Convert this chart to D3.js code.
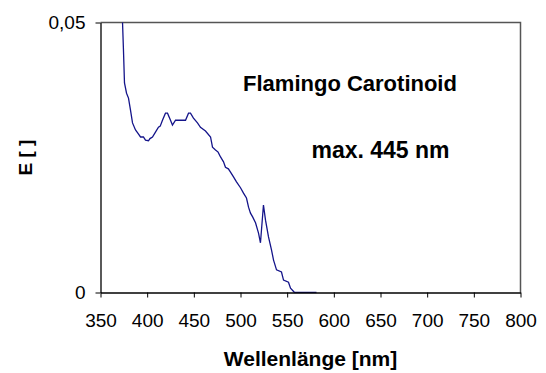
<!DOCTYPE html>
<html lang="de">
<head>
<meta charset="UTF-8">
<title>Flamingo Carotinoid</title>
<script src="https://cdnjs.cloudflare.com/ajax/libs/d3/7.8.5/d3.min.js"></script>
<style>
    body { margin: 0; background: #fff; }
    svg { font-family: "Liberation Sans", Arial, sans-serif; }
</style>
</head>
<body>
<div id="chart"></div>
<script>
    // Wellenlänge [nm] und Extinktion E
    const wavelength = [373.5, 374.6, 375.7, 377.9, 380, 382.1, 384.3, 387.5, 390, 392.9, 396, 398.2, 401.4,
        403, 405.7, 408.9, 412.1, 414, 416.4, 419.6, 421.8, 425, 427.1, 430.4, 436, 441.1, 444.3, 446.4, 449.6,
        453.9, 457.1, 462.5, 467.9, 470, 473.2, 476, 478.6, 481.8, 483.9, 487, 489.3, 492.5, 495.7, 500,
        503.2, 506.4, 508.6, 510.7, 513, 516.1, 519.3, 521.4, 524.6, 526.8, 530, 533.2, 535.4, 538.6,
        543.9, 546.1, 551.4, 553.6, 557.9, 581.4];
    const extinction = [0.0505, 0.0449, 0.0388, 0.0369, 0.0360, 0.0338, 0.0314, 0.0301, 0.0295, 0.0288, 0.0288, 0.0282, 0.0281,
        0.0285, 0.0288, 0.0297, 0.0306, 0.0308, 0.0319, 0.0332, 0.0332, 0.0319, 0.0310, 0.0319, 0.0319, 0.0319, 0.0332, 0.0332, 0.0323,
        0.0314, 0.0306, 0.0299, 0.0288, 0.0269, 0.0264, 0.0260, 0.0251, 0.0242, 0.0232, 0.0229, 0.0223, 0.0214, 0.0205, 0.0194,
        0.0184, 0.0175, 0.0158, 0.0147, 0.0140, 0.0129, 0.0110, 0.0092, 0.0162, 0.0134, 0.0103, 0.0079, 0.0060, 0.0042,
        0.0038, 0.0023, 0.0019, 0.0008, 0, 0];
    const xTicks = [350, 400, 450, 500, 550, 600, 650, 700, 750, 800];
    const yTicks = [0, 0.05];

    const width = 546, height = 373;
    const margin = { top: 22.5, right: 25.5, bottom: 80.5, left: 100.5 };
    const w = width - margin.left - margin.right;
    const h = height - margin.top - margin.bottom;

    const svg = d3.select("#chart").append("svg")
        .attr("width", width)
        .attr("height", height);

    const g = svg.append("g")
        .attr("transform", `translate(${margin.left},${margin.top})`);

    const x = d3.scaleLinear().domain([350, 800]).range([0, w]);
    const y = d3.scaleLinear().domain([0, 0.05]).range([h, 0]);

    // Rahmen oben und rechts
    g.append("path")
        .attr("d", `M0,0H${w}V${h}`)
        .attr("fill", "none")
        .attr("stroke", "#555")
        .attr("stroke-width", 1.5);

    g.append("clipPath").attr("id", "clip")
        .append("rect").attr("width", w).attr("height", h + 1);

    const data = wavelength.map((d, i) => [d, extinction[i]]);
    g.append("path")
        .datum(data)
        .attr("clip-path", "url(#clip)")
        .attr("fill", "none")
        .attr("stroke", "#14148a")
        .attr("stroke-width", 1.3)
        .attr("d", d3.line().x(d => x(d[0])).y(d => y(d[1])));

    const xAxis = g.append("g")
        .attr("transform", `translate(0,${h})`)
        .call(d3.axisBottom(x).tickValues(xTicks).tickSize(5).tickSizeOuter(0).tickPadding(16));
    const yAxis = g.append("g")
        .call(d3.axisLeft(y).tickValues(yTicks).tickSize(5).tickSizeOuter(0).tickPadding(10)
            .tickFormat(d => d === 0 ? "0" : d3.format(".2f")(d).replace(".", ",")));

    [xAxis, yAxis].forEach(a => {
        a.select(".domain").attr("stroke", "#000").attr("stroke-width", 1.3);
        a.selectAll(".tick line").attr("stroke", "#000");
        a.selectAll("text").attr("font-size", 19).attr("fill", "#000")
            .attr("font-family", "Liberation Sans, Arial, sans-serif");
    });

    svg.append("text")
        .attr("x", margin.left + w / 2)
        .attr("y", 366)
        .attr("text-anchor", "middle")
        .attr("font-size", 21)
        .attr("font-weight", "bold")
        .text("Wellenlänge [nm]");

    svg.append("text")
        .attr("transform", `translate(32,${margin.top + h / 2}) rotate(-90)`)
        .attr("text-anchor", "middle")
        .attr("font-size", 19)
        .attr("font-weight", "bold")
        .text("E [ ]");

    svg.append("text")
        .attr("x", 350)
        .attr("y", 91)
        .attr("text-anchor", "middle")
        .attr("font-size", 22)
        .attr("font-weight", "bold")
        .text("Flamingo Carotinoid");

    svg.append("text")
        .attr("x", 380.5)
        .attr("y", 158)
        .attr("text-anchor", "middle")
        .attr("font-size", 23)
        .attr("font-weight", "bold")
        .text("max. 445 nm");
</script>
</body>
</html>
